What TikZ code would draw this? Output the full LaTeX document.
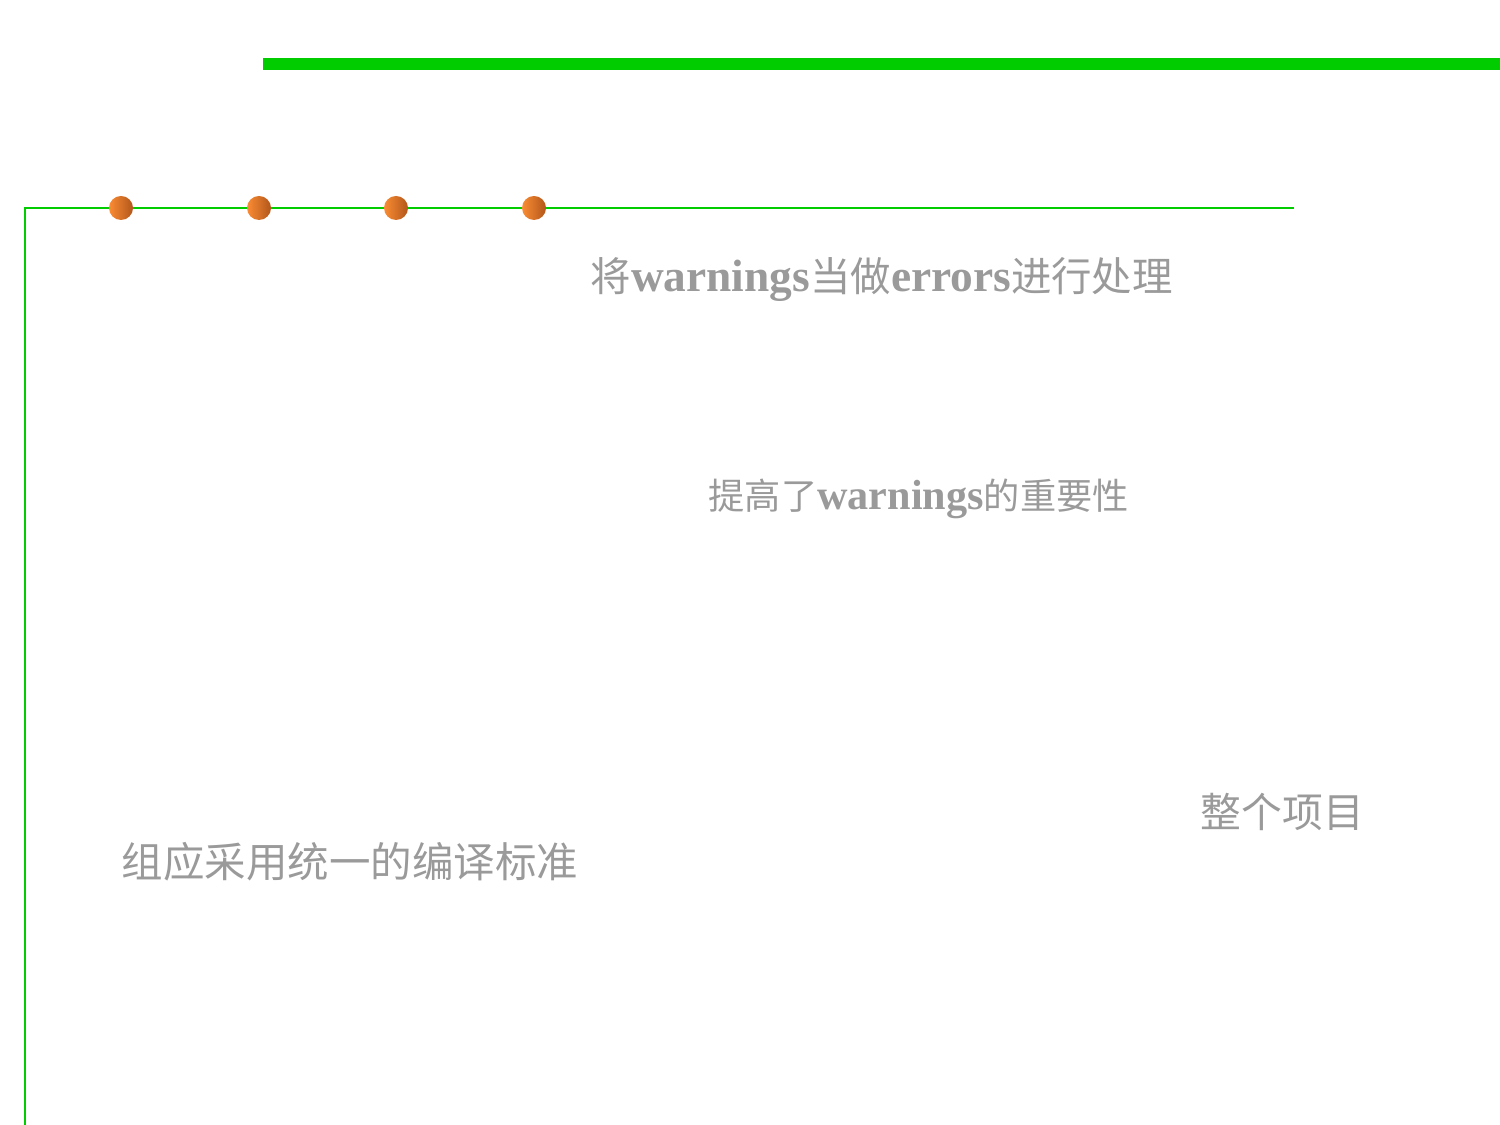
\documentclass[tikz,border=0pt]{standalone}
\usepackage{fontspec}
\setmainfont{Liberation Serif}
\newfontfamily\cjk{Noto Sans CJK SC}
\usetikzlibrary{positioning}

\definecolor{barGreen}{HTML}{00CC00}
\definecolor{dotLight}{HTML}{FA8C34}
\definecolor{dotDark}{HTML}{B2561A}
\definecolor{textGray}{HTML}{9A9A9A}

\tikzset{
    note/.style={text=textGray, inner sep=0pt, anchor=west},
    bead/.style={circle, minimum size=0.24cm, inner sep=0pt,
        left color=dotLight, right color=dotDark, shading angle=90}
}

\begin{document}
\begin{tikzpicture}[x=0.01cm, y=-0.01cm]
    \useasboundingbox (0,0) rectangle (1500,1125);

    % Heavy bar at the top
    \fill[barGreen] (263,58) rectangle (1500,70);

    % Thin frame line with beads
    \coordinate (frameBottom) at (25,1125);
    \coordinate (frameCorner) at (25,208);
    \coordinate (frameEnd) at (1294,208);
    \draw[barGreen, line width=0.6pt] (frameBottom) -- (frameCorner) -- (frameEnd);
    \foreach \x [count=\i] in {121, 259, 396, 534}
        \node[bead] (bead\i) at (\x,208) {};

    % Texts
    \node[note, font=\fontsize{11.5pt}{13pt}\selectfont] (errNote) at (590,280)
        {{\cjk 将}{\fontsize{12.9pt}{13pt}\selectfont\bfseries warnings}{\cjk 当做}%
         {\fontsize{12.9pt}{13pt}\selectfont\bfseries errors}{\cjk 进行处理}};
    \node[note, font=\fontsize{10.3pt}{12pt}\selectfont] (warnNote) at (708,499)
        {{\cjk 提高了}{\fontsize{12pt}{12pt}\selectfont\bfseries warnings}{\cjk 的重要性}};
    \node[note, font=\cjk\fontsize{11.8pt}{14pt}\selectfont] (groupNote) at (121,862)
        {组应采用统一的编译标准};
    \node[note, font=\cjk\fontsize{11.6pt}{14pt}\selectfont] (projNote) at (1200,812)
        {整个项目};
\end{tikzpicture}
\end{document}
